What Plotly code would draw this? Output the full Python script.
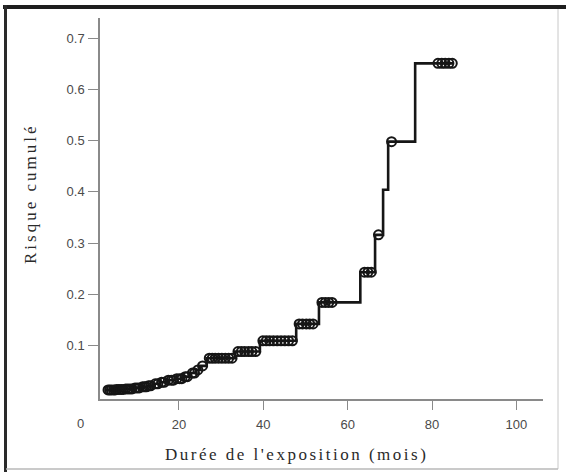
import numpy as np
import plotly.graph_objects as go

# Cumulative risk (step function): event times (months) and risk after each event
event_times = [2.8, 5.0, 7.0, 9.2, 11.0, 12.5, 13.9, 15.5, 17.1, 19.0, 21.0, 22.6,
               24.0, 25.0, 26.6, 33.3, 39.2, 47.8, 53.2, 63.0, 66.5, 68.4, 69.6, 76.0]
cum_risk = [0.013, 0.014, 0.015, 0.017, 0.019, 0.021, 0.025, 0.028, 0.032, 0.035, 0.039,
            0.046, 0.052, 0.060, 0.075, 0.088, 0.109, 0.142, 0.184, 0.243, 0.316, 0.404,
            0.498, 0.651]
last_time = 85.0

# Censored observations (months)
censor_times = [3.2, 3.6, 4.0, 4.5, 4.9, 5.3, 5.8, 6.3, 6.8, 7.4, 7.9, 8.4, 8.9, 9.6,
                10.1, 10.6, 11.4, 11.9, 12.3, 12.8, 13.3, 14.4, 15.0, 15.9, 16.5, 17.5,
                18.2, 18.7, 19.5, 20.2, 20.7, 21.5, 22.0, 23.2, 23.7, 24.5, 25.6, 27.2,
                27.9, 28.6, 29.4, 30.2, 31.0, 31.8, 32.6, 34.0, 34.8, 35.6, 36.5, 37.3,
                38.2, 39.9, 40.7, 41.5, 42.4, 43.3, 44.2, 45.1, 46.0, 46.9, 48.5, 49.3,
                50.2, 51.0, 51.8, 53.9, 54.7, 55.5, 56.3, 64.0, 64.8, 65.6, 67.3, 70.4,
                81.4, 82.3, 83.1, 84.0, 84.8]

x_ticks = [20, 40, 60, 80, 100]
y_ticks = [0.1, 0.2, 0.3, 0.4, 0.5, 0.6, 0.7]
y_tick_text = ["0.1", "0.2", "0.3", "0.4", "0.5", "0.6", "0.7"]

x_title = "Durée de l'exposition (mois)"
y_title = "Risque cumulé"

# step-line coordinates
line_x = list(event_times) + [last_time]
line_y = list(cum_risk) + [cum_risk[-1]]

# risk level at each censored time, read from the step function
idx = np.searchsorted(np.array(event_times), np.array(censor_times), side="right") - 1
censor_risk = [cum_risk[i] for i in idx]

W, H = 566, 472
ML, MR, MT, MB = 100, 23, 18, 73
PW, PH = W - ML - MR, H - MT - MB

def px(x):
    return (x - ML) / PW

def py(y):
    return 1 - (y - MT) / PH

ink = "#161616"
axis_col = "#8a8a8a"

fig = go.Figure()
fig.add_trace(go.Scatter(
    x=line_x, y=line_y, mode="lines", line_shape="hv",
    line=dict(color=ink, width=2.6), hoverinfo="skip", showlegend=False))
fig.add_trace(go.Scatter(
    x=censor_times, y=censor_risk, mode="markers",
    marker=dict(symbol="circle-open", size=9, color=ink, line=dict(width=2)),
    showlegend=False))

tick_font = dict(family="Liberation Sans, Arial, sans-serif", size=13, color="#4a4a4a")
title_font = dict(family="Liberation Serif, Times New Roman, serif", size=17, color="#2a2a2a")

fig.update_layout(
    width=W, height=H,
    margin=dict(l=ML, r=MR, t=MT, b=MB),
    paper_bgcolor="white", plot_bgcolor="white",
    xaxis=dict(range=[1.3, 106.3], tickvals=x_ticks, ticks="outside", ticklen=9,
               tickwidth=1.3, tickcolor=axis_col, showline=True, linecolor=axis_col,
               linewidth=1.5, showgrid=False, zeroline=False, tickfont=tick_font,
               ticklabelstandoff=4),
    yaxis=dict(range=[-0.0047, 0.7396], tickvals=y_ticks, ticktext=y_tick_text,
               ticks="outside", ticklen=10, tickwidth=1.3, tickcolor=axis_col,
               showline=True, linecolor=axis_col, linewidth=1.5, showgrid=False,
               zeroline=False, tickfont=tick_font, ticklabelstandoff=1),
)

annotations = [
    dict(text="0", x=px(80), y=py(423), xref="paper", yref="paper",
         showarrow=False, font=tick_font, xanchor="center", yanchor="middle"),
    dict(text="<span style='letter-spacing:2.5px'>" + x_title + "</span>",
         x=px(296), y=py(454), xref="paper", yref="paper",
         showarrow=False, font=title_font, xanchor="center", yanchor="middle"),
    dict(text="<span style='letter-spacing:3px'>" + y_title + "</span>",
         x=px(30), y=py(194), xref="paper", yref="paper",
         showarrow=False, font=title_font, textangle=-90,
         xanchor="center", yanchor="middle"),
]
fig.update_layout(annotations=annotations)

# outer frame: dark top and left edges, light right and bottom edges
shapes = [
    dict(type="rect", x0=px(3), x1=px(W), y0=py(9), y1=py(5),
         fillcolor="#1e1e1e", line=dict(width=0)),
    dict(type="rect", x0=px(4), x1=px(7), y0=py(H), y1=py(5),
         fillcolor="#2a2a2a", line=dict(width=0)),
    dict(type="line", x0=px(558), x1=px(558), y0=py(469), y1=py(9),
         line=dict(color="#c8c8c8", width=1)),
    dict(type="line", x0=px(6), x1=px(558), y0=py(469), y1=py(469),
         line=dict(color="#b8b8b8", width=1.5)),
]
for s in shapes:
    s.update(xref="paper", yref="paper", layer="above")
fig.update_layout(shapes=shapes)

fig.write_html("out.html")
